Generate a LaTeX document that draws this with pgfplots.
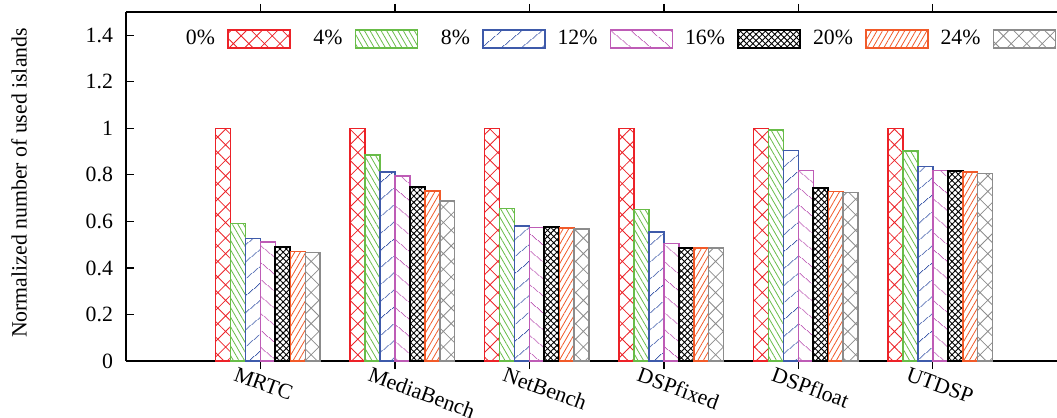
\documentclass[border=0pt]{standalone}
\usepackage{fontspec}
\setmainfont{Liberation Serif}
\usepackage{pgfplots}
\pgfplotsset{compat=1.18}
\usetikzlibrary{patterns.meta}
\definecolor{cRed}{RGB}{236,34,40}
\definecolor{cGreen}{RGB}{104,188,72}
\definecolor{cBlue}{RGB}{62,90,170}
\definecolor{cPink}{RGB}{190,92,182}
\definecolor{cOrange}{RGB}{241,90,41}
\definecolor{cGray}{RGB}{140,140,140}
\begin{document}
\begin{tikzpicture}[font=\fontsize{10.9pt}{13pt}\selectfont]
\begin{axis}[
  scale only axis,
  width=465.5pt, height=174.5pt,
  xmin=0, xmax=6.923, ymin=0, ymax=1.5,
  axis x line*=box, axis y line*=left,
  axis line style={-, line width=0.8pt},
  xtick={1,2,3,4,5,6},
  xticklabels={MRTC,MediaBench,NetBench,DSPfixed,DSPfloat,UTDSP},
  ytick={0,0.2,0.4,0.6,0.8,1,1.2,1.4},
  xtick pos=both, ytick pos=left,
  xticklabel pos=lower, yticklabel pos=left,
  tick align=inside,
  major tick length=4pt,
  tick style={black, line width=0.6pt},
  /pgf/number format/assume math mode=true,
  yticklabel style={xshift=-3pt},
  xticklabel style={xshift=-11.5pt, yshift=1.5pt, rotate=-20, anchor=north west, inner sep=0pt},
  ylabel={Normalized number of used islands},
  ylabel style={at={(axis description cs:-0.1149,0.51)}, anchor=center},
  ybar, bar width=7.47pt,
  legend image code/.code={\draw[#1] (0pt,-4.5pt) rectangle (31pt,4.5pt);},
  legend columns=7,
  legend plot pos=right,
  legend style={draw=none, fill=none, inner sep=0pt, outer sep=0pt,
    column sep=6pt,
    at={(axis description cs:0,1)}, anchor=west, xshift=24.5pt, yshift=-13.5pt,
    nodes={inner sep=0pt, text width=20pt, align=right}},
]
\addplot[bar shift=-18.67pt, draw=cRed, line width=0.75pt, pattern={Hatch[angle=45,distance=5.5pt,line width=0.4pt]}, pattern color=cRed]
  coordinates {(1,1.0) (2,1.0) (3,1.0) (4,1.0) (5,1.0) (6,1.0)};
\addlegendentry{0\%}
\addplot[bar shift=-11.2pt, draw=cGreen, line width=0.75pt, pattern={Lines[angle=-60,distance=2.4pt,line width=0.4pt]}, pattern color=cGreen]
  coordinates {(1,0.591) (2,0.885) (3,0.655) (4,0.652) (5,0.993) (6,0.903)};
\addlegendentry{4\%}
\addplot[bar shift=-3.73pt, draw=cBlue, line width=0.75pt, pattern={Lines[angle=40,distance=6.5pt,line width=0.4pt]}, pattern color=cBlue]
  coordinates {(1,0.527) (2,0.812) (3,0.580) (4,0.554) (5,0.905) (6,0.836)};
\addlegendentry{8\%}
\addplot[bar shift=3.73pt, draw=cPink, line width=0.75pt, pattern={Lines[angle=-40,distance=6.5pt,line width=0.4pt]}, pattern color=cPink]
  coordinates {(1,0.512) (2,0.795) (3,0.574) (4,0.506) (5,0.819) (6,0.819)};
\addlegendentry{12\%}
\addplot[bar shift=11.2pt, draw=black, line width=1pt, pattern={Hatch[angle=45,distance=2.2pt,line width=0.45pt]}, pattern color=black]
  coordinates {(1,0.488) (2,0.748) (3,0.574) (4,0.487) (5,0.745) (6,0.816)};
\addlegendentry{16\%}
\addplot[bar shift=18.67pt, draw=cOrange, line width=0.75pt, pattern={Lines[angle=60,distance=2.4pt,line width=0.4pt]}, pattern color=cOrange]
  coordinates {(1,0.470) (2,0.731) (3,0.572) (4,0.485) (5,0.729) (6,0.813)};
\addlegendentry{20\%}
\addplot[bar shift=26.13pt, draw=cGray, line width=0.75pt, pattern={Hatch[angle=45,distance=5.5pt,line width=0.4pt]}, pattern color=cGray]
  coordinates {(1,0.467) (2,0.688) (3,0.568) (4,0.485) (5,0.725) (6,0.805)};
\addlegendentry{24\%}
\end{axis}
\pgfresetboundingbox
\path[use as bounding box] ([xshift=-63pt,yshift=-28pt]current axis.south west) rectangle ([yshift=6pt]current axis.north east);
\end{tikzpicture}
\end{document}
